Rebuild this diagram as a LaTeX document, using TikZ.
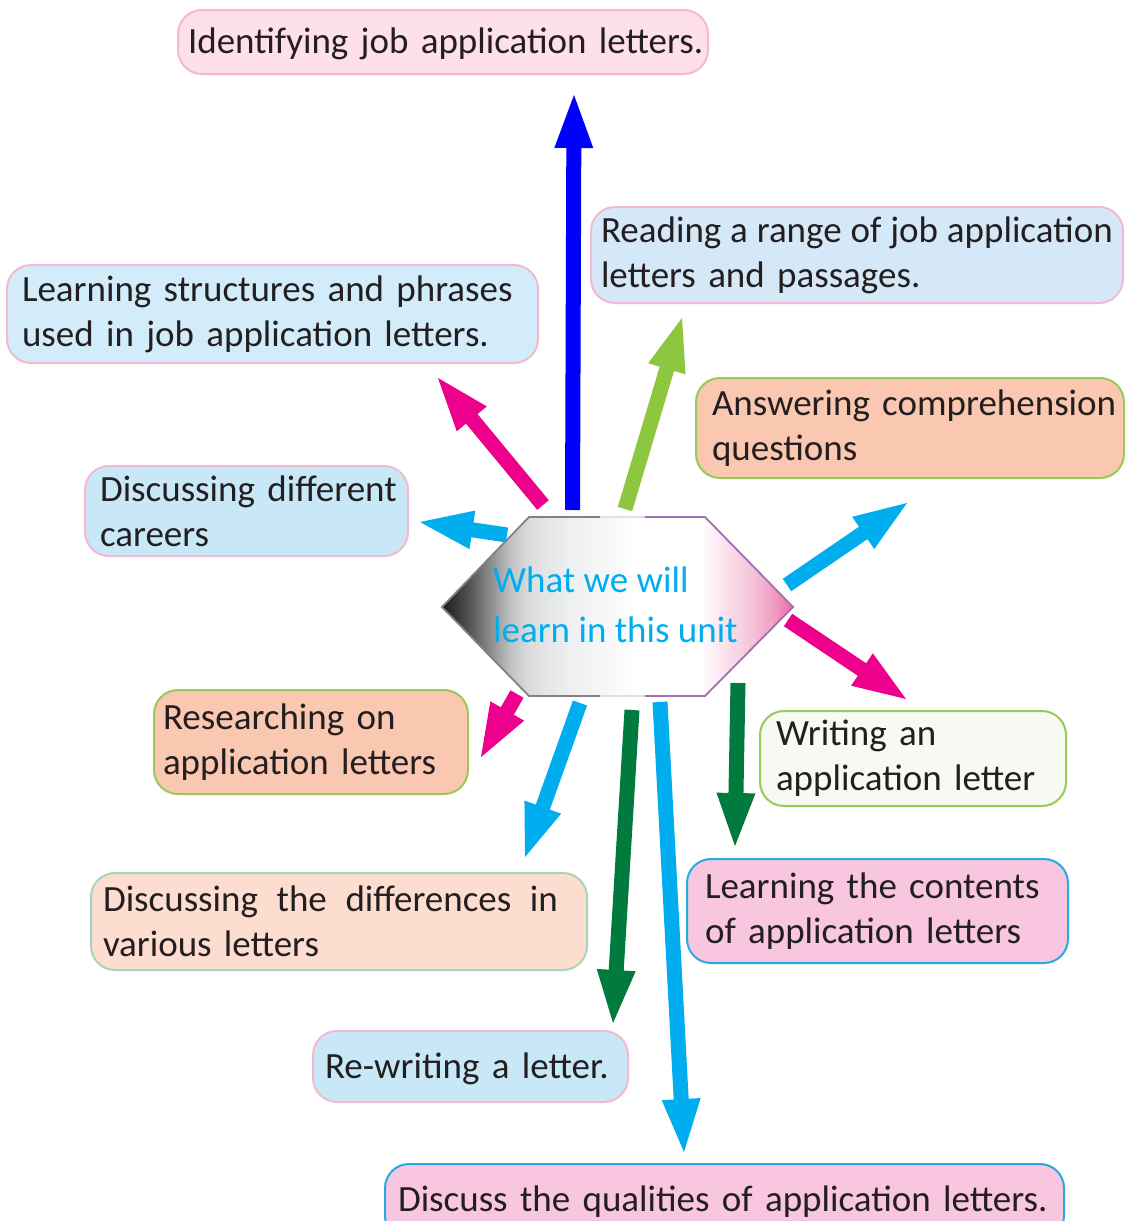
\documentclass[tikz,border=0pt]{standalone}
\usepackage{fontspec}
\setmainfont{Carlito}
\usetikzlibrary{calc}
\definecolor{txt}{HTML}{231F20}
\definecolor{pinkB}{HTML}{F5B8D2}
\definecolor{pinkOneF}{HTML}{FDE0EC}
\definecolor{blueAF}{HTML}{D5E8F7}
\definecolor{blueBF}{HTML}{D2ECF9}
\definecolor{blueCF}{HTML}{C8E8F8}
\definecolor{salmonF}{HTML}{FAC7B1}
\definecolor{greenB}{HTML}{98CA55}
\definecolor{offF}{HTML}{F7F9F3}
\definecolor{peachF}{HTML}{FCDDCF}
\definecolor{peachB}{HTML}{A8D5BA}
\definecolor{pinkF}{HTML}{F8C6DF}
\definecolor{blueB}{HTML}{27AAE1}
\definecolor{arBlue}{HTML}{0000FF}
\definecolor{arMag}{HTML}{EC008C}
\definecolor{arLime}{HTML}{8DC63F}
\definecolor{arCyan}{HTML}{00AEEF}
\definecolor{arDkGreen}{HTML}{007A3D}
\definecolor{hx0}{HTML}{1A1A1B}
\definecolor{hx1}{HTML}{555557}
\definecolor{hx2}{HTML}{8A8B8D}
\definecolor{hx3}{HTML}{C0C1C3}
\definecolor{hx4}{HTML}{DCDDDF}
\definecolor{hx5}{HTML}{EEEFF0}
\definecolor{hx6}{HTML}{F8F8F9}
\definecolor{hx7}{HTML}{FBE8F0}
\definecolor{hx8}{HTML}{F5C6DA}
\definecolor{hx9}{HTML}{F09CC0}
\definecolor{hx10}{HTML}{EC6AA5}
\definecolor{hexGray}{HTML}{808285}
\definecolor{hexLight}{HTML}{E4DEE9}
\definecolor{hexPurple}{HTML}{A070B0}
\pgfdeclarehorizontalshading{hexshade}{100bp}{color(0bp)=(hx0); color(25bp)=(hx0); color(29bp)=(hx1); color(31.8bp)=(hx2); color(34.7bp)=(hx3); color(37.5bp)=(hx4); color(43bp)=(hx5); color(49bp)=(hx6); color(53bp)=(white); color(61.8bp)=(white); color(64.5bp)=(hx7); color(68.9bp)=(hx8); color(72.4bp)=(hx9); color(75bp)=(hx10); color(100bp)=(hx10)}
\newcommand\oneline[1]{\mbox{#1}}
\newcommand\fatarrow[3]{%
  \coordinate (hb) at ($(#3)!53pt!(#2)$);
  \fill[#1] ($(#2)!7.5pt!90:(#3)$) -- ($(hb)!7.5pt!90:(#3)$) -- ($(hb)!19.5pt!90:(#3)$) -- (#3)
    -- ($(hb)!19.5pt!-90:(#3)$) -- ($(hb)!7.5pt!-90:(#3)$) -- ($(#2)!7.5pt!-90:(#3)$) -- cycle;}
\begin{document}
\begin{tikzpicture}[x=1pt,y=-1pt,
  box/.style={draw, line width=2pt, rounded corners=24pt, align=left, text=txt,
    font=\fontsize{37}{45}\selectfont, inner ysep=0pt},
  hubtext/.style={align=left, text=arCyan, font=\fontsize{37}{50}\selectfont, inner sep=0pt}]
\useasboundingbox (0,0) rectangle (1125,1221);
\fill[white] (0,0) rectangle (1125,1221);

% boxes
\node[box, fill=pinkOneF, draw=pinkB, minimum width=530pt, minimum height=64pt, text width=510pt, inner xsep=10pt] (b1) at (443,42) {\rule{0pt}{30pt}\oneline{Identifying job application letters.}};
\node[box, fill=blueAF, draw=pinkB, minimum width=532pt, minimum height=96pt, text width=512pt, inner xsep=10pt] (b2) at (857,255) {\oneline{\spaceskip=8.9pt\relax Reading a range of job application}\\\oneline{letters and passages.}};
\node[box, fill=blueBF, draw=pinkB, minimum width=531pt, minimum height=98pt, text width=501pt, inner xsep=15pt] (b3) at (272.5,314) {\oneline{Learning structures and phrases}\\\oneline{used in job application letters.}};
\node[box, fill=salmonF, draw=greenB, minimum width=428pt, minimum height=100pt, text width=396pt, inner xsep=16pt] (b4) at (910,428) {\oneline{Answering comprehension}\\\oneline{questions}};
\node[box, fill=blueCF, draw=pinkB, minimum width=323pt, minimum height=90pt, text width=293pt, inner xsep=15pt] (b5) at (246.5,511) {\oneline{Discussing different}\\\oneline{careers}};
\node[box, fill=salmonF, draw=greenB, minimum width=314pt, minimum height=104pt, text width=296pt, inner xsep=9pt] (b6) at (311,742) {\oneline{Researching on}\\\oneline{application letters}};
\node[box, fill=offF, draw=greenB, minimum width=306pt, minimum height=95pt, text width=274pt, inner xsep=16pt] (b7) at (913,758.5) {\oneline{Writing an}\\\oneline{application letter}};
\node[box, fill=peachF, draw=peachB, minimum width=496pt, minimum height=97pt, text width=472pt, inner xsep=12pt] (b8) at (339,921.5) {\hbox to 455pt{Discussing\hfill the\hfill differences\hfill in}\\\oneline{various letters}};
\node[box, fill=pinkF, draw=blueB, minimum width=381pt, minimum height=104pt, text width=345pt, inner xsep=18pt] (b9) at (877.5,911) {\oneline{Learning the contents}\\\oneline{of application letters}};
\node[box, fill=blueCF, draw=pinkB, minimum width=315pt, minimum height=71pt, text width=291pt, inner xsep=12pt] (b10) at (470.5,1066.5) {\rule{0pt}{30pt}\oneline{Re-writing a letter.}};
\node[box, fill=pinkF, draw=blueB, minimum width=679pt, minimum height=76pt, text width=653pt, inner xsep=13pt] (b11) at (724.5,1202) {\oneline{Discuss the qualities of application letters.}};

% central hexagon
\coordinate (hL) at (442,607);
\coordinate (hTL) at (529,517);
\coordinate (hTR) at (705,517);
\coordinate (hR) at (793,607);
\coordinate (hBR) at (705,696);
\coordinate (hBL) at (529,696);
\coordinate (hTM) at (600,517);
\coordinate (hBM) at (600,696);
\coordinate (hTN) at (645,517);
\coordinate (hBN) at (645,696);
\shade[shading=hexshade] (hL) -- (hTL) -- (hTR) -- (hR) -- (hBR) -- (hBL) -- cycle;
\draw[hexGray, line width=1.8pt, line join=miter] (hTM) -- (hTL) -- (hL) -- (hBL) -- (hBM);
\draw[hexLight, line width=1.8pt] (hTM) -- (hTN) (hBM) -- (hBN);
\draw[hexPurple, line width=1.8pt, line join=miter] (hTN) -- (hTR) -- (hR) -- (hBR) -- (hBN);
\node[hubtext, anchor=base west] (hub) at (493,642) {What we will\\learn in this unit};

% arrows
\coordinate (a1s) at (572.5,510); \coordinate (a1e) at (574,95);
\coordinate (a2s) at (543,505);   \coordinate (a2e) at (438,378);
\coordinate (a3s) at (625,509);   \coordinate (a3e) at (682,318);
\coordinate (a4s) at (507,535);   \coordinate (a4e) at (420,522);
\coordinate (a5s) at (787,585);   \coordinate (a5e) at (907,503);
\coordinate (a6s) at (788,620);   \coordinate (a6e) at (906,699);
\coordinate (a7s) at (517,694);   \coordinate (a7e) at (481,757);
\coordinate (a8s) at (580,703);   \coordinate (a8e) at (525,857);
\coordinate (a9s) at (632,710);   \coordinate (a9e) at (613,1023);
\coordinate (a10s) at (660,702);  \coordinate (a10e) at (684,1152);
\coordinate (a11s) at (738,683);  \coordinate (a11e) at (735,846);
\fatarrow{arBlue}{a1s}{a1e}
\fatarrow{arMag}{a2s}{a2e}
\fatarrow{arLime}{a3s}{a3e}
\fatarrow{arCyan}{a4s}{a4e}
\fatarrow{arCyan}{a5s}{a5e}
\fatarrow{arMag}{a6s}{a6e}
\fatarrow{arMag}{a7s}{a7e}
\fatarrow{arCyan}{a8s}{a8e}
\fatarrow{arDkGreen}{a9s}{a9e}
\fatarrow{arCyan}{a10s}{a10e}
\fatarrow{arDkGreen}{a11s}{a11e}
\end{tikzpicture}
\end{document}
